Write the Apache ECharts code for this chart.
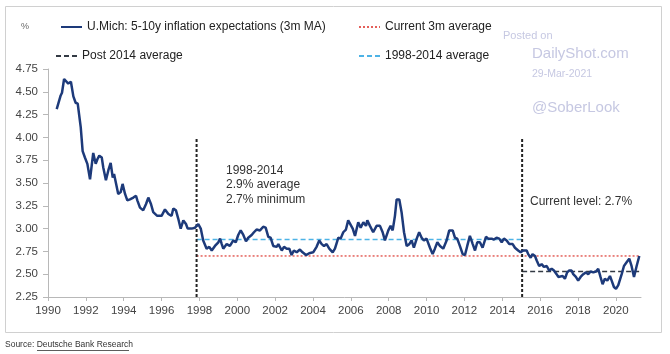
<!DOCTYPE html>
<html>
<head>
<meta charset="utf-8">
<script src="https://cdn.jsdelivr.net/npm/echarts@6/dist/echarts.min.js"></script>
<style>
html,body{margin:0;padding:0;background:#fff;}
#chart{width:670px;height:354px;}
</style>
</head>
<body>
<div id="chart"></div>
<script>
// U.Mich 5-10y inflation expectations (3m MA)
const years = [
1990.46,1990.67,1990.74,1990.85,1990.95,1991.07,1991.21,1991.34,1991.46,1991.57,1991.73,1991.83,1991.95,
1992.08,1992.22,1992.39,1992.52,1992.61,1992.71,1992.84,1992.92,1993.06,1993.19,1993.31,1993.42,1993.49,
1993.59,1993.71,1993.84,1993.94,1994.07,1994.19,1994.33,1994.51,1994.65,1994.72,1994.86,1995.03,1995.18,
1995.30,1995.44,1995.56,1995.77,1996.00,1996.18,1996.36,1996.53,1996.62,1996.76,1996.88,1997.01,1997.15,
1997.29,1997.38,1997.59,1997.77,1997.94,1998.07,1998.20,1998.38,1998.52,1998.65,1998.82,1999.00,1999.09,
1999.18,1999.26,1999.44,1999.53,1999.61,1999.79,1999.92,2000.05,2000.18,2000.32,2000.46,2000.58,2000.76,
2000.88,2001.02,2001.20,2001.37,2001.50,2001.64,2001.76,2001.90,2002.08,2002.17,2002.35,2002.47,2002.61,
2002.75,2002.87,2002.99,2003.14,2003.31,2003.45,2003.63,2003.80,2004.01,2004.19,2004.33,2004.46,2004.58,
2004.72,2004.86,2005.04,2005.16,2005.34,2005.46,2005.60,2005.74,2005.86,2005.95,2006.10,2006.22,2006.39,
2006.52,2006.66,2006.80,2006.87,2007.01,2007.18,2007.36,2007.54,2007.68,2007.80,2007.98,2008.10,2008.21,
2008.33,2008.42,2008.56,2008.68,2008.81,2008.95,2009.09,2009.21,2009.33,2009.48,2009.61,2009.74,2009.86,
2010.00,2010.18,2010.32,2010.44,2010.57,2010.71,2010.88,2011.06,2011.20,2011.38,2011.50,2011.62,2011.76,
2011.91,2012.03,2012.15,2012.29,2012.44,2012.56,2012.68,2012.82,2012.96,2013.14,2013.26,2013.44,2013.56,
2013.70,2013.84,2013.97,2014.09,2014.23,2014.37,2014.55,2014.67,2014.84,2014.97,2015.11,2015.29,2015.37,
2015.50,2015.60,2015.73,2015.82,2015.95,2016.08,2016.20,2016.35,2016.48,2016.61,2016.73,2016.87,2016.96,
2017.05,2017.19,2017.31,2017.43,2017.54,2017.66,2017.75,2017.89,2018.01,2018.14,2018.28,2018.42,2018.54,
2018.67,2018.81,2018.95,2019.07,2019.19,2019.30,2019.42,2019.55,2019.69,2019.78,2019.90,2020.01,2020.13,
2020.22,2020.31,2020.43,2020.57,2020.71,2020.83,2020.96,2021.10,2021.24
];
const values = [
4.31,4.46,4.49,4.64,4.62,4.59,4.61,4.45,4.38,4.37,4.11,3.85,3.78,
3.71,3.54,3.83,3.71,3.76,3.80,3.78,3.67,3.53,3.64,3.72,3.56,3.60,
3.60,3.38,3.40,3.49,3.38,3.31,3.32,3.34,3.36,3.31,3.23,3.20,3.27,
3.34,3.27,3.18,3.14,3.14,3.21,3.16,3.14,3.22,3.20,3.11,3.00,3.09,
3.05,3.00,3.00,3.01,3.05,3.00,2.87,2.78,2.80,2.76,2.81,2.85,2.89,
2.83,2.78,2.83,2.85,2.81,2.87,2.85,2.93,2.98,2.93,2.86,2.90,2.93,
2.96,2.99,2.98,3.02,3.01,2.91,2.90,2.81,2.80,2.83,2.76,2.80,2.78,
2.78,2.71,2.76,2.74,2.77,2.74,2.71,2.73,2.74,2.80,2.87,2.83,2.81,
2.83,2.78,2.74,2.78,2.90,2.89,2.96,2.99,3.09,3.11,3.00,2.92,3.07,
3.01,3.07,3.03,3.09,3.03,2.96,3.03,3.03,2.96,2.87,2.98,3.03,2.98,
3.14,3.32,3.32,3.18,2.96,2.81,2.83,2.87,2.79,2.89,2.96,2.90,2.87,
2.89,2.79,2.72,2.78,2.85,2.81,2.78,2.87,2.98,2.98,2.90,2.89,2.81,
2.72,2.71,2.81,2.92,2.83,2.76,2.85,2.85,2.79,2.91,2.89,2.89,2.88,
2.90,2.89,2.85,2.89,2.87,2.83,2.83,2.79,2.76,2.74,2.76,2.76,2.72,
2.68,2.72,2.70,2.65,2.59,2.61,2.58,2.59,2.54,2.56,2.54,2.50,2.47,
2.45,2.48,2.45,2.52,2.54,2.54,2.50,2.47,2.43,2.47,2.50,2.52,2.50,
2.53,2.52,2.53,2.56,2.47,2.39,2.45,2.43,2.48,2.43,2.36,2.34,2.38,
2.39,2.50,2.59,2.63,2.67,2.59,2.47,2.59,2.70
];
// reference levels
const avg19982014 = 2.88;
const currentAvg = 2.70;
const post2014Avg = 2.53;
const regimeBreaks = [1997.85, 2015.05];   // vertical dashed markers
const breakTop = 4.0;
const seriesEnd = years[years.length - 1];

const yTicks = {min: 2.25, max: 4.75, interval: 0.25};
const xTicks = {min: 1990, max: 2021.33, interval: 2};

const lineData = years.map((y, i) => [y, values[i]]);

const chart = echarts.init(document.getElementById('chart'), null, {renderer: 'canvas'});
const FONT = 'Liberation Sans, Arial, sans-serif';
const navy = '#1d3a7a';
const red = '#e4605a';
const blue = '#4db3e6';
const dark = '#333a44';

function legendAt(name, left, top) {
  return {
    data: [name], left: left, top: top, itemWidth: 21, itemHeight: 12, selectedMode: false,
    itemStyle: {opacity: 0},
    textStyle: {fontFamily: FONT, fontSize: 12, color: '#222'}
  };
}

chart.setOption({
  animation: false,
  backgroundColor: '#fff',
  grid: {left: 48, right: 29, top: 69, bottom: 57, containLabel: false},
  legend: [
    legendAt('U.Mich: 5-10y inflation expectations (3m MA)', 55, 16),
    legendAt('Current 3m average', 353, 16),
    legendAt('Post 2014 average', 50, 45),
    legendAt('1998-2014 average', 353, 45)
  ],
  xAxis: {
    type: 'value', min: xTicks.min, max: xTicks.max, interval: xTicks.interval,
    axisLine: {show: true, lineStyle: {color: '#b8b8b8'}},
    axisTick: {show: true, length: 4, lineStyle: {color: '#b8b8b8'}},
    splitLine: {show: false},
    axisLabel: {fontFamily: FONT, fontSize: 11.5, color: '#444', margin: 8, showMaxLabel: false,
      formatter: v => (Math.abs(v % 2) < 1e-6 && v <= 2020) ? String(v) : ''}
  },
  yAxis: {
    type: 'value', min: yTicks.min, max: yTicks.max, interval: yTicks.interval,
    axisLine: {show: true, lineStyle: {color: '#b8b8b8'}},
    axisTick: {show: true, length: 5, lineStyle: {color: '#b8b8b8'}},
    splitLine: {show: false},
    axisLabel: {fontFamily: FONT, fontSize: 11.5, color: '#444', margin: 10, formatter: v => v.toFixed(2)}
  },
  series: [
    {name: 'Current 3m average', type: 'line', symbol: 'none', z: 3,
     data: [[regimeBreaks[0], currentAvg], [seriesEnd, currentAvg]],
     lineStyle: {color: red, width: 1.5, type: [2, 2]}, itemStyle: {color: red}},
    {name: '1998-2014 average', type: 'line', symbol: 'none', z: 3,
     data: [[regimeBreaks[0], avg19982014], [regimeBreaks[1], avg19982014]],
     lineStyle: {color: blue, width: 1.5, type: [5, 3]}, itemStyle: {color: blue}},
    {name: 'Post 2014 average', type: 'line', symbol: 'none', z: 3,
     data: [[regimeBreaks[1], post2014Avg], [seriesEnd, post2014Avg]],
     lineStyle: {color: dark, width: 1.5, type: [5, 3]}, itemStyle: {color: dark}},
    {name: 'break1', type: 'line', symbol: 'none', z: 3, silent: true,
     data: [[regimeBreaks[0], yTicks.min], [regimeBreaks[0], breakTop]],
     lineStyle: {color: '#222', width: 2, type: [3, 2]}},
    {name: 'break2', type: 'line', symbol: 'none', z: 3, silent: true,
     data: [[regimeBreaks[1], yTicks.min], [regimeBreaks[1], breakTop]],
     lineStyle: {color: '#222', width: 2, type: [3, 2]}},
    {name: 'U.Mich: 5-10y inflation expectations (3m MA)', type: 'line', symbol: 'none', z: 5,
     data: lineData, lineStyle: {color: navy, width: 2.5}, itemStyle: {color: navy}}
  ],
  graphic: [
    {type: 'rect', shape: {x: 5.5, y: 6.5, width: 656, height: 326}, style: {fill: 'none', stroke: '#d0d0d0', lineWidth: 1}, z: -1},
    {type: 'text', left: 21, top: 22, style: {text: '%', font: '9px ' + FONT, fill: '#666'}},
    {type: 'text', left: 503, top: 30, style: {text: 'Posted on', font: '11px ' + FONT, fill: '#c6c8e2'}},
    {type: 'text', left: 532, top: 46, style: {text: 'DailyShot.com', font: '15px ' + FONT, fill: '#c6c8e2'}},
    {type: 'text', left: 532, top: 69, style: {text: '29-Mar-2021', font: '10.5px ' + FONT, fill: '#c6c8e2'}},
    {type: 'text', left: 532, top: 100, style: {text: '@SoberLook', font: '15px ' + FONT, fill: '#c6c8e2'}},
    {type: 'text', left: 226, top: 163, style: {text: '1998-2014\n2.9% average\n2.7% minimum', font: '12px ' + FONT, fill: '#333', lineHeight: 14.5}},
    {type: 'text', left: 530, top: 196, style: {text: 'Current level: 2.7%', font: '12px ' + FONT, fill: '#333'}},
    {type: 'text', left: 5, top: 340, style: {text: 'Source: Deutsche Bank Research', font: '8.5px ' + FONT, fill: '#333'}},
    {type: 'line', shape: {x1: 37, y1: 350.5, x2: 129, y2: 350.5}, style: {stroke: '#333', lineWidth: 0.8}}
  ]
});
</script>
</body>
</html>
